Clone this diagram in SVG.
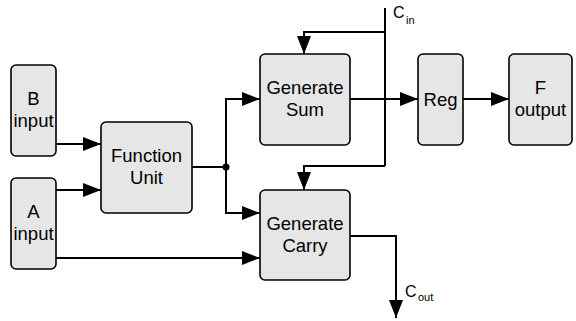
<svg xmlns="http://www.w3.org/2000/svg" width="576" height="321" viewBox="0 0 576 321">
<style>
.box{fill:#e6e6e6;stroke:#000;stroke-width:1.6}
.t{font-family:"Liberation Sans",Arial,sans-serif;font-size:18.5px;fill:#000;text-anchor:middle}
.w{fill:none;stroke:#000;stroke-width:2}
.lbl{font-family:"Liberation Sans",Arial,sans-serif;fill:#000}
</style>
<defs>
<marker id="ah" markerUnits="userSpaceOnUse" markerWidth="18" markerHeight="14" refX="18" refY="7" orient="auto">
<path d="M0,0 L18,7 L0,14 z" fill="#000"/>
</marker>
</defs>
<rect width="576" height="321" fill="#fff"/>
<g id="b-input"><rect class="box" x="11" y="65" width="45" height="91" rx="5"/><text class="t" x="33.5" y="105">B</text><text class="t" x="33.5" y="127">input</text></g>
<g id="a-input"><rect class="box" x="11" y="178" width="45" height="91" rx="5"/><text class="t" x="33.5" y="218">A</text><text class="t" x="33.5" y="240">input</text></g>
<g id="function-unit"><rect class="box" x="101" y="122" width="91" height="91" rx="5"/><text class="t" x="146.5" y="162">Function</text><text class="t" x="146.5" y="184">Unit</text></g>
<g id="generate-sum"><rect class="box" x="260" y="54" width="90" height="91" rx="5"/><text class="t" x="305" y="94">Generate</text><text class="t" x="305" y="116">Sum</text></g>
<g id="generate-carry"><rect class="box" x="260" y="190" width="90" height="90" rx="5"/><text class="t" x="305" y="230">Generate</text><text class="t" x="305" y="252">Carry</text></g>
<g id="reg"><rect class="box" x="418" y="54" width="45" height="91" rx="5"/><text class="t" x="440.5" y="106">Reg</text></g>
<g id="f-output"><rect class="box" x="509" y="54" width="63" height="91" rx="5"/><text class="t" x="540.5" y="94">F</text><text class="t" x="540.5" y="116">output</text></g>
<g id="connectors">
<path class="w" d="M56,144 H101" marker-end="url(#ah)"/>
<path class="w" d="M56,190 H101" marker-end="url(#ah)"/>
<path class="w" d="M56,258 H260" marker-end="url(#ah)"/>
<path class="w" d="M192,167 H226"/>
<path class="w" d="M226,167 V99 H260" marker-end="url(#ah)"/>
<path class="w" d="M226,167 V213 H260" marker-end="url(#ah)"/>
<circle cx="226" cy="167" r="3.5" fill="#000"/>
<path class="w" d="M385,8 V166"/>
<path class="w" d="M385,32 H304 V54" marker-end="url(#ah)"/>
<path class="w" d="M385,166 H304 V190" marker-end="url(#ah)"/>
<path class="w" d="M350,99 H418" marker-end="url(#ah)"/>
<path class="w" d="M463,99 H509" marker-end="url(#ah)"/>
<path class="w" d="M350,236 H396 V318" marker-end="url(#ah)"/>
</g>
<text class="lbl" x="393" y="18" font-size="16">C</text><text class="lbl" x="406" y="24" font-size="11">in</text>
<text class="lbl" x="405" y="297" font-size="16">C</text><text class="lbl" x="418" y="301" font-size="11">out</text>
</svg>
